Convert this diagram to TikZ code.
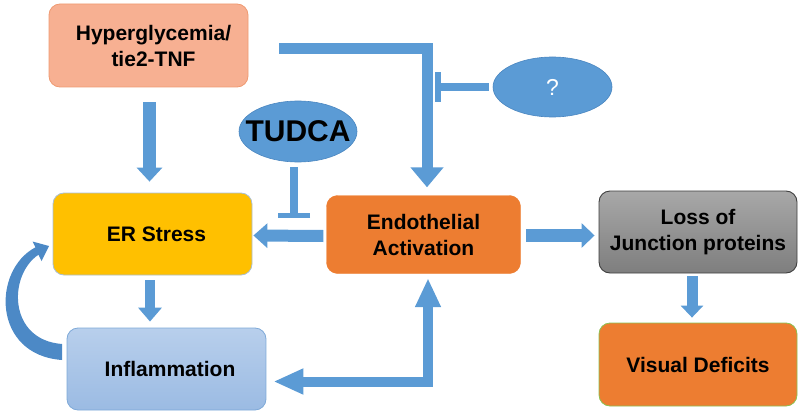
\documentclass[tikz,border=0pt]{standalone}
\usepackage{fontspec}
\setmainfont{Liberation Sans}
\usetikzlibrary{arrows.meta,shapes.geometric,calc}
\definecolor{arrowblue}{HTML}{5B9BD5}
\definecolor{curveblue}{HTML}{4C89C6}
\definecolor{hyperfill}{HTML}{F7B092}
\definecolor{hyperdraw}{HTML}{EF9A72}
\definecolor{erfill}{HTML}{FFC000}
\definecolor{erdraw}{HTML}{A9BFD6}
\definecolor{orangefill}{HTML}{ED7D31}
\definecolor{greendraw}{HTML}{8CC152}
\definecolor{graytop}{HTML}{A8A8A8}
\definecolor{graybot}{HTML}{7E7E7E}
\definecolor{graydraw}{HTML}{3F3F3F}
\definecolor{infltop}{HTML}{B8CFEC}
\definecolor{inflbot}{HTML}{9BBBE3}
\definecolor{infldraw}{HTML}{7EA9D8}
\definecolor{ellipsedraw}{HTML}{4A86C0}
\begin{document}
\begin{tikzpicture}[x=1pt,y=-1pt,
  box/.style={rectangle,rounded corners=11pt,minimum width=198pt,minimum height=82pt,
    align=center,inner sep=0pt,font=\bfseries\fontsize{21}{26}\selectfont,text=black},
  oval/.style={ellipse,fill=arrowblue,draw=ellipsedraw,line width=0.6pt,inner sep=0pt},
  blockarrow/.style={draw=arrowblue,line join=miter},
  inhibit/.style={draw=arrowblue,line join=miter}]
\useasboundingbox (0,0) rectangle (800,417);

% boxes
\node[box,fill=hyperfill,draw=hyperdraw,line width=0.8pt,minimum width=199pt,minimum height=83pt] (hyper) at (148.5,45.5) {\hspace*{10pt}Hyperglycemia/\\\hspace*{10pt}tie2-TNF};
\node[box,fill=erfill,draw=erdraw,line width=0.8pt,minimum width=199pt,minimum height=82pt] (er) at (152.5,234) {\hspace*{8pt}ER Stress};
\node[box,fill=orangefill,draw=orangefill,minimum width=194pt,minimum height=78pt] (endo) at (423.5,234.5) {Endothelial\\Activation};
\node[box,top color=graytop,bottom color=graybot,draw=graydraw,line width=0.9pt,minimum width=198pt,minimum height=82pt] (loss) at (698,232) {Loss of\\Junction proteins};
\node[box,top color=infltop,bottom color=inflbot,draw=infldraw,line width=0.8pt,minimum width=199pt,minimum height=82pt] (infl) at (166.5,369) {\hspace*{7pt}Inflammation};
\node[box,fill=orangefill,draw=greendraw,line width=0.8pt,minimum width=198pt,minimum height=83pt] (vis) at (698,364.5) {Visual Deficits};

% ellipses
\node[oval,minimum width=118pt,minimum height=61pt,font=\bfseries\fontsize{30}{32}\selectfont] (tudca) at (298,131.5) {\makebox[0pt]{TUDCA}};
\node[oval,minimum width=119pt,minimum height=60pt,font=\fontsize{23}{25}\selectfont,text=white] (q) at (552.5,87) {\makebox[0pt]{?}};

% Hyperglycemia -> ER stress
\draw[blockarrow,line width=13pt,-{Triangle[length=14pt,width=25pt]}]
  ($(hyper.south)+(1,15)$) -- ($(er.north)+(-3,-11)$);
% Hyperglycemia -> Endothelial activation (elbow)
\draw[blockarrow,line width=11pt,-{Triangle[length=20pt,width=32pt]}]
  ($(hyper.east)+(31,3)$) -| ($(endo.north)+(3.5,-8)$);
% ? inhibits
\draw[inhibit,line width=8pt,-{Bar[width=30pt,line width=6pt]}]
  ($(q.west)+(-4,0)$) -- ($(q.west)+(-58,0)$);
% TUDCA inhibits
\draw[inhibit,line width=8pt,-{Bar[width=32pt,line width=5pt]}]
  ($(tudca.south)+(-4,5)$) -- ($(tudca.south)+(-4,56)$);
% Endothelial -> ER stress
\draw[blockarrow,line width=12pt,-{Triangle[length=14pt,width=24pt]}]
  ($(endo.west)+(-3,1.5)$) -- ($(er.east)+(1,1.5)$);
% Endothelial -> Loss
\draw[blockarrow,line width=13pt,-{Triangle[length=13pt,width=24pt]}]
  ($(endo.east)+(5.5,1)$) -- ($(loss.west)+(-4,3.5)$);
% Loss -> Visual
\draw[blockarrow,line width=11pt,-{Triangle[length=12pt,width=22pt]}]
  ($(loss.south)+(-6,3)$) -- ($(vis.north)+(-6,-5)$);
% ER -> Inflammation
\draw[blockarrow,line width=10pt,-{Triangle[length=14pt,width=23pt]}]
  ($(er.south)+(-2.5,5)$) -- ($(infl.north)+(-16.5,-6)$);
% Endothelial <-> Inflammation (elbow)
\draw[blockarrow,line width=10pt,{Triangle[length=29pt,width=24pt]}-{Triangle[length=30pt,width=24pt]}]
  ($(endo.south)+(4.5,4.5)$) |- ($(infl.east)+(7,12.5)$);

% curved arrow Inflammation -> ER stress
\fill[curveblue]
  (62,344) .. controls (8,340) and (8,275) .. (38.5,254.7)
  -- (41.5,261) -- (49,246) -- (32.5,241.5) -- (35.5,247.3)
  .. controls (-8,270) and (-8,355) .. (62,360) -- cycle;
\end{tikzpicture}
\end{document}
